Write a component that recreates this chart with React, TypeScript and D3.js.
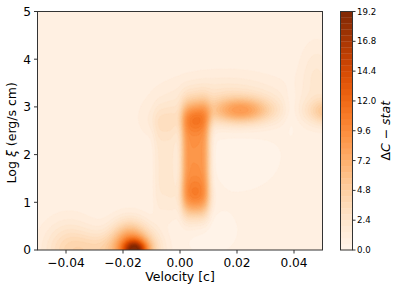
import React, { useMemo } from "react";
import * as d3 from "d3";

// ---- data ----
const xDomain: [number, number] = [-0.05, 0.05];
const yDomain: [number, number] = [0, 5];
const xTicks = [-0.04, -0.02, 0.0, 0.02, 0.04];
const yTicks = [0, 1, 2, 3, 4, 5];
const cbarTicks = [0, 2.4, 4.8, 7.2, 9.6, 12.0, 14.4, 16.8, 19.2];
const levelMax = 19.2;
const levelCount = 40;
const baseLevel = 0.6;

// features of the Delta C-stat surface: centre (velocity, log xi), widths, shape power, height
const peakX = [-0.0158, -0.0165, -0.018, -0.039, -0.029, 0.0054, 0.0054, 0.0054, 0.0215, 0.052, 0.016, 0.048, -0.005, -0.006, 0.01, 0.02, 0.039];
const peakY = [0.0, 0.0, 0.35, 0.0, 0.0, 1.9, 2.75, 1.1, 2.92, 2.9, 3.15, 3.6, 1.85, 2.7, 0.4, 2.0, 2.95];
const peakSx = [0.0028, 0.0055, 0.004, 0.006, 0.006, 0.0042, 0.0035, 0.0035, 0.0075, 0.005, 0.014, 0.004, 0.0035, 0.005, 0.006, 0.01, 0.002];
const peakSy = [0.14, 0.3, 0.25, 0.4, 0.25, 0.98, 0.2, 0.25, 0.19, 0.19, 0.35, 0.5, 0.95, 0.25, 0.3, 0.5, 0.3];
const peakPow = [2, 2, 2, 2, 2, 4, 2, 2, 2, 2, 2, 2, 4, 2, 2, 2, 2];
const peakAmp = [10, 8.5, 2.5, 3.0, 2.2, 8.6, 2.8, 2.8, 6.6, 4.5, 2.0, 1.4, 1.5, 1.2, -0.5, -0.4, -0.8];

const W = 399, H = 291;
const L = 37.5, R = 322.5, T = 11.5, B = 250;
const CB_L = 340.5, CB_R = 352.5;

export default function App() {
  const pw = R - L, ph = B - T;
  const x = d3.scaleLinear().domain(xDomain).range([L, R]);
  const y = d3.scaleLinear().domain(yDomain).range([B, T]);
  const levels = d3.range(levelCount).map((i) => (i * levelMax) / levelCount);
  const bandColor = (k: number) => d3.interpolateOranges((k + 0.5) / levelCount);
  const cb = d3.scaleLinear().domain([0, levelMax]).range([B, T]);

  const nx = 286, ny = 240;
  const paths = useMemo(() => {
    const vals = new Float64Array(nx * ny);
    for (let j = 0; j < ny; j++) {
      const yy = yDomain[1] - ((j + 0.5) / ny) * (yDomain[1] - yDomain[0]);
      for (let i = 0; i < nx; i++) {
        const xx = xDomain[0] + ((i + 0.5) / nx) * (xDomain[1] - xDomain[0]);
        let v = baseLevel;
        for (let p = 0; p < peakX.length; p++) {
          const dx = Math.abs(xx - peakX[p]) / peakSx[p];
          const dy = Math.abs(yy - peakY[p]) / peakSy[p];
          const e = peakPow[p];
          v += peakAmp[p] * Math.exp(-0.5 * (Math.pow(dx, e) + Math.pow(dy, e)));
        }
        vals[j * nx + i] = Math.max(0, Math.min(levelMax - 0.01, v));
      }
    }
    const conts = d3.contours().size([nx, ny]).thresholds(levels)(Array.from(vals));
    const tr = d3.geoTransform({
      point(px: number, py: number) {
        (this as any).stream.point(L + (px * pw) / nx, T + (py * ph) / ny);
      },
    });
    const gp = d3.geoPath(tr);
    return conts.map((c, k) => ({ d: gp(c as any) || "", k }));
  }, []);

  const fmtX = (v: number) => (v < 0 ? "\u2212" : "") + Math.abs(v).toFixed(2);
  const font = "DejaVu Sans, sans-serif";
  const axisColor = "#333";

  return (
    <svg width={W} height={H} style={{ position: "absolute", left: 0, top: 0, background: "#fff" }} fontFamily={font}>
      <defs>
        <clipPath id="plotclip">
          <rect x={L} y={T} width={pw} height={ph} />
        </clipPath>
      </defs>
      <g clipPath="url(#plotclip)">
        <rect x={L} y={T} width={pw} height={ph} fill={bandColor(0)} />
        {paths.map((p) => (
          <path key={p.k} d={p.d} fill={bandColor(p.k)} stroke={bandColor(p.k)} strokeWidth={0.3} />
        ))}
      </g>
      <rect x={L} y={T} width={pw} height={ph} fill="none" stroke={axisColor} strokeWidth={1} />
      {xTicks.map((t) => (
        <g key={"x" + t}>
          <line x1={x(t)} x2={x(t)} y1={B} y2={B + 3.5} stroke={axisColor} />
          <text x={x(t)} y={267} fontSize={12.2} textAnchor="middle" fill="#000">{fmtX(t)}</text>
        </g>
      ))}
      {yTicks.map((t) => (
        <g key={"y" + t}>
          <line x1={L - 3.5} x2={L} y1={y(t)} y2={y(t)} stroke={axisColor} />
          <text x={31} y={y(t)} dy="0.36em" fontSize={12.2} textAnchor="end" fill="#000">{t}</text>
        </g>
      ))}
      <text x={(L + R) / 2} y={281} fontSize={12.5} textAnchor="middle" fill="#000">Velocity [c]</text>
      <text transform={`translate(16,${(T + B) / 2 + 2}) rotate(-90)`} fontSize={12.5} textAnchor="middle" fill="#000">
        Log <tspan fontStyle="italic">ξ</tspan> (erg/s cm)
      </text>
      {/* colorbar */}
      {levels.map((lv, k) => (
        <rect key={"cb" + k} x={CB_L} width={CB_R - CB_L} y={cb(lv + levelMax / levelCount)} height={cb(lv) - cb(lv + levelMax / levelCount) + 0.3} fill={bandColor(k)} />
      ))}
      <rect x={CB_L} y={T} width={CB_R - CB_L} height={ph} fill="none" stroke={axisColor} strokeWidth={1} />
      {cbarTicks.map((t) => (
        <g key={"c" + t}>
          <line x1={CB_R} x2={CB_R + 3} y1={cb(t)} y2={cb(t)} stroke={axisColor} />
          <text x={CB_R + 4.5} y={cb(t)} dy="0.36em" fontSize={8.6} fill="#000">{t.toFixed(1)}</text>
        </g>
      ))}
      <text transform={`translate(390,${(T + B) / 2}) rotate(-90)`} fontSize={12.5} textAnchor="middle" fill="#000">
        <tspan>Δ</tspan><tspan fontStyle="italic">C</tspan><tspan> − </tspan><tspan fontStyle="italic">stat</tspan>
      </text>
    </svg>
  );
}
